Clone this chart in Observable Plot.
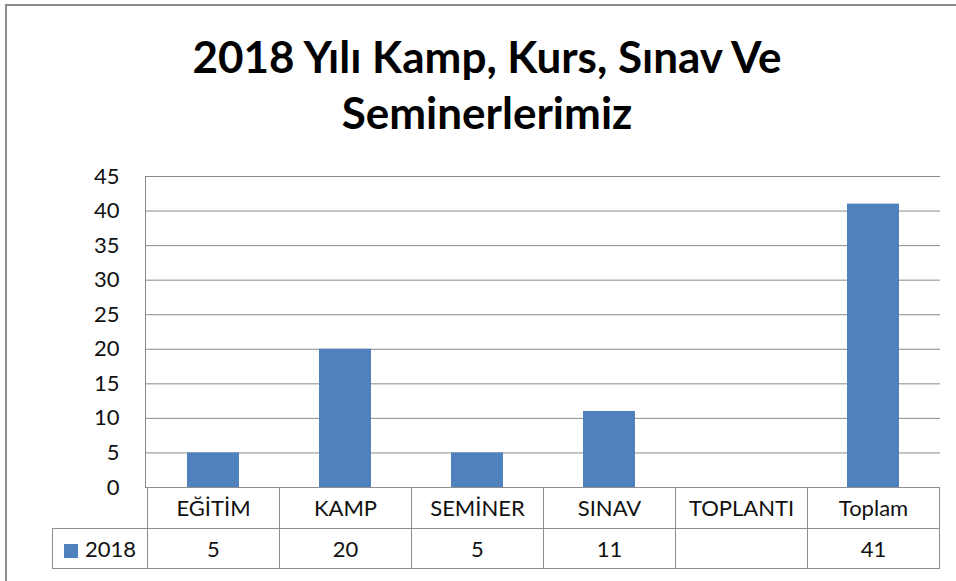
<!DOCTYPE html>
<html>
<head>
<meta charset="utf-8">
<script src="https://cdn.jsdelivr.net/npm/d3@7"></script>
<script src="https://cdn.jsdelivr.net/npm/@observablehq/plot@0.6"></script>
<style>
  html, body { margin: 0; padding: 0; background: #fff; }
  #root { position: relative; width: 956px; height: 581px; overflow: hidden; font-family: Lato, "Open Sans", sans-serif; }
  #frame { position: absolute; left: 5px; top: 4px; width: 1000px; height: 700px; border-left: 2px solid #8c8c8c; border-top: 2px solid #8c8c8c; box-sizing: border-box; }
  #title { position: absolute; left: 0; width: 974px; top: 28px; text-align: center; font-weight: 700; font-size: 44px; line-height: 56px; color: #000; }
  #chart { position: absolute; left: 0; top: 0; }
  .cell { position: absolute; box-sizing: border-box; border: 1px solid #8e8e8e; font-size: 22px; color: #111; text-align: center; line-height: 39px; }
  .sw { display: inline-block; width: 14px; height: 14px; vertical-align: -1px; margin-right: 7px; }
</style>
</head>
<body>
<div id="root">
  <div id="frame"></div>
  <div id="title"></div>
  <div id="chart"></div>
</div>
<script>
const titleLines = ["2018 Yılı Kamp, Kurs, Sınav Ve", "Seminerlerimiz"];
const categories = ["EĞİTİM", "KAMP", "SEMİNER", "SINAV", "TOPLANTI", "Toplam"];
const seriesName = "2018";
const values2018 = [5, 20, 5, 11, null, 41];
const yTicks = [0, 5, 10, 15, 20, 25, 30, 35, 40, 45];
const barColor = "#4f81bd";

document.getElementById("title").innerHTML = titleLines.join("<br>");

const data = categories.map((c, i) => ({category: c, value: values2018[i]}));

const plot = Plot.plot({
  width: 956,
  height: 581,
  marginLeft: 145,
  marginRight: 16,
  marginTop: 176,
  marginBottom: 94,
  style: {fontFamily: "Lato, 'Open Sans', sans-serif", fontSize: "22px", color: "#111", background: "transparent", overflow: "visible"},
  x: {domain: categories, padding: 0, axis: null},
  y: {domain: [0, 45], axis: null},
  marks: [
    Plot.gridY(yTicks, {stroke: "#8a8a8a", strokeOpacity: 1, strokeWidth: 1}),
    Plot.axisY(yTicks, {tickSize: 0, tickPadding: 26, fontSize: 22, fill: "#111", label: null}),
    Plot.barY(data.filter(d => d.value != null), {x: "category", y: "value", fill: barColor, insetLeft: 40, insetRight: 40}),
    Plot.frame({anchor: "left", stroke: "#8a8a8a"})
  ]
});
document.getElementById("chart").appendChild(plot);

// Data table under the plot, aligned with the x scale
const xs = plot.scale("x");
const ys = plot.scale("y");
const bw = xs.bandwidth;
const top0 = ys.apply(0);
const rowH = 41;
const root = document.getElementById("root");
function cell(left, top, w, h, html) {
  const d = document.createElement("div");
  d.className = "cell";
  d.style.left = left + "px";
  d.style.top = top + "px";
  d.style.width = (w + 1) + "px";
  d.style.height = (h + 1) + "px";
  d.innerHTML = html;
  root.appendChild(d);
}
categories.forEach((c, i) => {
  const x0 = xs.apply(c);
  cell(x0, top0, bw, rowH, c);
  cell(x0, top0 + rowH, bw, rowH - 1, values2018[i] == null ? "" : String(values2018[i]));
});
const firstX = xs.apply(categories[0]);
cell(52, top0 + rowH, firstX - 52, rowH - 1, `<span class="sw" style="background:${barColor}"></span>${seriesName}`);
</script>
</body>
</html>
